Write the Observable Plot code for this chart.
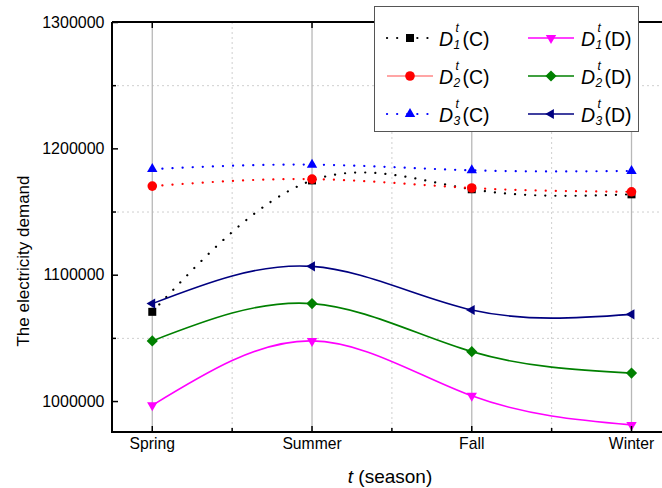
<!DOCTYPE html>
<html><head><meta charset="utf-8">
<script src="https://cdn.jsdelivr.net/npm/d3@7"></script>
<script src="https://cdn.jsdelivr.net/npm/@observablehq/plot@0.6"></script>
<style>body{margin:0;background:#fff;}#chart{width:662px;height:488px;}</style>
</head><body><div id="chart"></div>
<script>
// ---- data ----
const seasons = ["Spring", "Summer", "Fall", "Winter"];
const seasonIndex = [1, 2, 3, 4];
const D1C = [1071000, 1175000, 1168000, 1164000];
const D2C = [1170500, 1176000, 1169000, 1166000];
const D3C = [1184000, 1187500, 1183000, 1182500];
const D1D = [997000, 1048000, 1004500, 981500];
const D2D = [1048000, 1077500, 1039500, 1022500];
const D3D = [1077500, 1107000, 1072500, 1069000];
const seriesKeys = ["D1C", "D2C", "D3C", "D1D", "D2D", "D3D"];
const seriesSub = ["1", "2", "3", "1", "2", "3"];
const seriesGroup = ["C", "C", "C", "D", "D", "D"];
const yTicks = [1000000, 1100000, 1200000, 1300000];
const yMinorTicks = [1050000, 1150000, 1250000];
const xMinorTicks = [1.5, 2.5, 3.5];
const yLabel = "The electricity demand";
const xLabelItalic = "t";
const xLabelRest = " (season)";

// ---- styles ----
const FONT = "'Liberation Sans', Arial, Helvetica, sans-serif";
function triangle(deg, R) {
  return {draw(c) {
    for (let k = 0; k < 3; k++) {
      const a = (deg + 120 * k) * Math.PI / 180;
      const x = R * Math.cos(a), y = R * Math.sin(a);
      if (k) c.lineTo(x, y); else c.moveTo(x, y);
    }
    c.closePath();
  }};
}
const symSquare = {draw(c) { const s = 4; c.moveTo(-s, -s); c.lineTo(s, -s); c.lineTo(s, s); c.lineTo(-s, s); c.closePath(); }};
const symCircle = {draw(c) { c.moveTo(4.8, 0); c.arc(0, 0, 4.8, 0, 2 * Math.PI); }};
const symDiamond = {draw(c) { const s = 5.6; c.moveTo(0, -s); c.lineTo(s, 0); c.lineTo(0, s); c.lineTo(-s, 0); c.closePath(); }};
const style = {
  D1C: {color: "#000000", dotted: true, symbol: symSquare},
  D2C: {color: "#ff0000", dotted: true, symbol: symCircle, legendSolid: true},
  D3C: {color: "#0000ff", dotted: true, symbol: triangle(-90, 6)},
  D1D: {color: "#ff00ff", dotted: false, symbol: triangle(90, 6)},
  D2D: {color: "#008000", dotted: false, symbol: symDiamond},
  D3D: {color: "#000080", dotted: false, symbol: triangle(180, 5.8)}
};
const valuesByKey = {D1C, D2C, D3C, D1D, D2D, D3D};
const rows = seriesKeys.flatMap(k => seasonIndex.map((x, i) => ({series: k, x, y: valuesByKey[k][i]})));

function lineMark(k) {
  const s = style[k];
  return Plot.line(rows.filter(d => d.series === k), {
    x: "x", y: "y", curve: "natural", stroke: s.color,
    strokeWidth: s.dotted ? 2.2 : 1.6,
    strokeDasharray: s.dotted ? "0.1 10" : null,
    strokeLinecap: s.dotted ? "round" : "butt"
  });
}
function dotMark(k) {
  const s = style[k];
  return Plot.dot(rows.filter(d => d.series === k), {x: "x", y: "y", r: 5, symbol: () => s.symbol, fill: s.color, stroke: "none"});
}

function decor(index, scales, values, dims) {
  const {width, height, marginLeft, marginTop, marginBottom, marginRight} = dims;
  const L = marginLeft, T = marginTop, B = height - marginBottom, R = width - marginRight;
  const g = d3.create("svg:g").attr("font-family", FONT);
  g.append("path").attr("d", `M${L},${T}V${B}H${R}M${L},${T}H${R}`)
    .attr("fill", "none").attr("stroke", "#000").attr("stroke-width", 2);
  // y title
  g.append("text").attr("transform", "translate(29,261) rotate(-90)")
    .attr("text-anchor", "middle").attr("font-size", 17).attr("fill", "#000").text(yLabel);
  // x title
  const xt = g.append("text").attr("x", 390).attr("y", 483).attr("text-anchor", "middle")
    .attr("font-size", 19).attr("fill", "#000");
  xt.append("tspan").attr("font-style", "italic").text(xLabelItalic);
  xt.append("tspan").text(xLabelRest);
  // legend
  const lg = g.append("g").attr("text-anchor", "start");
  lg.append("rect").attr("x", 374.5).attr("y", 6.5).attr("width", 264).attr("height", 125)
    .attr("fill", "#fff").attr("stroke", "#555").attr("stroke-width", 1);
  seriesKeys.forEach((k, i) => {
    const s = style[k];
    const col = Math.floor(i / 3), row = i % 3;
    const cy = 38 + row * 38;
    const x1 = col ? 528 : 387, x2 = col ? 574 : 433, mx = col ? 551 : 410;
    const tx = col ? 581 : 439;
    const dotted = s.dotted && !s.legendSolid;
    lg.append("line").attr("x1", x1).attr("x2", x2).attr("y1", cy).attr("y2", cy)
      .attr("stroke", s.color).attr("stroke-opacity", s.legendSolid ? 0.7 : 1)
      .attr("stroke-width", dotted ? 2.2 : (s.legendSolid ? 1.2 : 1.6))
      .attr("stroke-dasharray", dotted ? "0.1 10" : null)
      .attr("stroke-linecap", dotted ? "round" : "butt");
    const p = d3.path(); s.symbol.draw(p);
    lg.append("path").attr("transform", `translate(${mx},${cy})`).attr("d", p.toString()).attr("fill", s.color);
    const by = cy + 8;
    const t = lg.append("text").attr("fill", "#000").attr("text-anchor", "start");
    t.append("tspan").attr("x", tx).attr("y", by).attr("font-size", 19.5).attr("font-style", "italic").text("D");
    t.append("tspan").attr("x", tx + 16.5).attr("y", by - 14.5).attr("font-size", 12).attr("font-style", "italic").text("t");
    t.append("tspan").attr("x", tx + 14.5).attr("y", by + 3).attr("font-size", 12).attr("font-style", "italic").text(seriesSub[i]);
    t.append("tspan").attr("x", tx + 23.5).attr("y", by).attr("font-size", 19.5).text(`(${seriesGroup[i]})`);
  });
  return g.node();
}

const chart = Plot.plot({
  width: 662, height: 488,
  marginLeft: 112, marginRight: 0, marginTop: 22, marginBottom: 56,
  style: {fontFamily: FONT, background: "#fff", color: "#000"},
  x: {type: "linear", domain: [0.751, 4.194]},
  y: {domain: [975500, 1300000]},
  marks: [
    Plot.ruleY(yMinorTicks, {stroke: "#cfcfcf", strokeDasharray: "2 3", strokeWidth: 1}),
    Plot.ruleX(xMinorTicks, {stroke: "#cfcfcf", strokeDasharray: "2 3", strokeWidth: 1}),
    Plot.ruleX(seasonIndex, {stroke: "#b8b8b8", strokeWidth: 1.3}),
    ...seriesKeys.map(lineMark),
    ...seriesKeys.map(dotMark),
    Plot.axisX(seasonIndex, {tickSize: -6, tickPadding: 11, tickFormat: i => seasons[i - 1], fontSize: 15.7, label: null, strokeWidth: 1.5}),
    Plot.axisX(xMinorTicks, {tickSize: -4, tickFormat: () => "", label: null, strokeWidth: 1.5}),
    Plot.axisX(seasonIndex, {anchor: "top", tickSize: -5, tickFormat: () => "", label: null, strokeWidth: 1.5}),
    Plot.axisY(yTicks, {tickSize: -6, tickPadding: 14, tickFormat: d => String(d), fontSize: 16, label: null, strokeWidth: 1.5}),
    Plot.axisY(yMinorTicks, {tickSize: -4, tickFormat: () => "", label: null, strokeWidth: 1.5}),
    decor
  ]
});
document.getElementById("chart").appendChild(chart);
</script>
</body></html>
